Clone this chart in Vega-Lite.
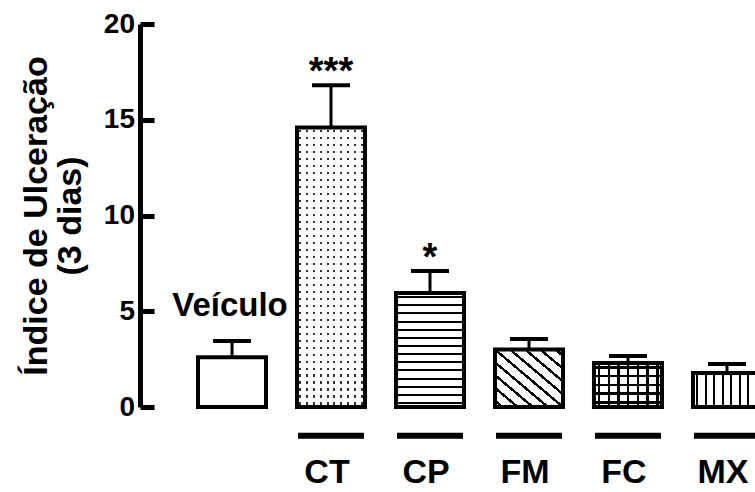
{
  "$schema": "https://vega.github.io/schema/vega-lite/v6.json",
  "autosize": {"type": "none"},
  "padding": {"left": 140, "top": 24, "right": 0, "bottom": 85},
  "width": 615,
  "height": 383,
  "background": "white",
  "config": {"view": {"stroke": null}, "font": "Liberation Sans"},
  "data": {"values": [
    {"grupo": "Veículo", "media": 2.6, "erro": 3.45, "rotulo": "", "sig": ""},
    {"grupo": "CT", "media": 14.6, "erro": 16.8, "rotulo": "CT", "sig": "***"},
    {"grupo": "CP", "media": 5.95, "erro": 7.1, "rotulo": "CP", "sig": "*"},
    {"grupo": "FM", "media": 3.0, "erro": 3.55, "rotulo": "FM", "sig": ""},
    {"grupo": "FC", "media": 2.3, "erro": 2.66, "rotulo": "FC", "sig": ""},
    {"grupo": "MX", "media": 1.78, "erro": 2.25, "rotulo": "MX", "sig": ""}
  ]},
  "encoding": {
    "x": {"field": "grupo", "type": "nominal", "sort": null, "axis": null,
          "scale": {"range": [0, 679], "paddingInner": 0.313, "paddingOuter": 0.586}}
  },
  "layer": [
    {
      "mark": {"type": "rule", "stroke": "black", "strokeWidth": 3},
      "encoding": {
        "y": {"field": "media", "type": "quantitative", "scale": {"domain": [0, 20]},
              "axis": {"values": [0, 5, 10, 15, 20], "grid": false,
                       "domainColor": "black", "domainWidth": 5,
                       "tickColor": "black", "tickWidth": 5, "tickSize": -14,
                       "labelFontSize": 28, "labelFontWeight": "bold", "labelColor": "black",
                       "labelFont": "Liberation Sans", "labelPadding": 19.5,
                       "title": ["Índice de Ulceração", "(3 dias)"],
                       "titleFont": "Liberation Sans", "titleFontSize": 34, "titleFontWeight": "bold",
                       "titleColor": "black", "titleAngle": 270, "titleX": -94, "titleY": 191.5,
                       "titleAlign": "center", "titleBaseline": "alphabetic", "titleLineHeight": 34}},
        "y2": {"field": "erro"}
      }
    },
    {
      "transform": [{"filter": "datum.grupo === 'Veículo'"}],
      "mark": {"type": "bar", "fill": "white"},
      "encoding": {"y": {"field": "media", "type": "quantitative"}}
    },
    {
      "transform": [{"filter": "datum.grupo === 'CT'"}],
      "mark": {"type": "bar", "fill": "#333"},
      "encoding": {"y": {"field": "media", "type": "quantitative"}}
    },
    {
      "transform": [{"filter": "datum.grupo === 'CT'"}],
      "mark": {"type": "bar", "fill": {"gradient": "linear", "x1": 0, "y1": 0, "x2": 0, "y2": 1, "stops": [
        {"offset": 0, "color": "#fff"},
        {"offset": 0.00875, "color": "#fff"}, {"offset": 0.00875, "color": "transparent"}, {"offset": 0.01625, "color": "transparent"}, {"offset": 0.01625, "color": "#fff"},
        {"offset": 0.03375, "color": "#fff"}, {"offset": 0.03375, "color": "transparent"}, {"offset": 0.04125, "color": "transparent"}, {"offset": 0.04125, "color": "#fff"},
        {"offset": 0.05875, "color": "#fff"}, {"offset": 0.05875, "color": "transparent"}, {"offset": 0.06625, "color": "transparent"}, {"offset": 0.06625, "color": "#fff"},
        {"offset": 0.08375, "color": "#fff"}, {"offset": 0.08375, "color": "transparent"}, {"offset": 0.09125, "color": "transparent"}, {"offset": 0.09125, "color": "#fff"},
        {"offset": 0.10875, "color": "#fff"}, {"offset": 0.10875, "color": "transparent"}, {"offset": 0.11625, "color": "transparent"}, {"offset": 0.11625, "color": "#fff"},
        {"offset": 0.13375, "color": "#fff"}, {"offset": 0.13375, "color": "transparent"}, {"offset": 0.14125, "color": "transparent"}, {"offset": 0.14125, "color": "#fff"},
        {"offset": 0.15875, "color": "#fff"}, {"offset": 0.15875, "color": "transparent"}, {"offset": 0.16625, "color": "transparent"}, {"offset": 0.16625, "color": "#fff"},
        {"offset": 0.18375, "color": "#fff"}, {"offset": 0.18375, "color": "transparent"}, {"offset": 0.19125, "color": "transparent"}, {"offset": 0.19125, "color": "#fff"},
        {"offset": 0.20875, "color": "#fff"}, {"offset": 0.20875, "color": "transparent"}, {"offset": 0.21625, "color": "transparent"}, {"offset": 0.21625, "color": "#fff"},
        {"offset": 0.23375, "color": "#fff"}, {"offset": 0.23375, "color": "transparent"}, {"offset": 0.24125, "color": "transparent"}, {"offset": 0.24125, "color": "#fff"},
        {"offset": 0.25875, "color": "#fff"}, {"offset": 0.25875, "color": "transparent"}, {"offset": 0.26625, "color": "transparent"}, {"offset": 0.26625, "color": "#fff"},
        {"offset": 0.28375, "color": "#fff"}, {"offset": 0.28375, "color": "transparent"}, {"offset": 0.29125, "color": "transparent"}, {"offset": 0.29125, "color": "#fff"},
        {"offset": 0.30875, "color": "#fff"}, {"offset": 0.30875, "color": "transparent"}, {"offset": 0.31625, "color": "transparent"}, {"offset": 0.31625, "color": "#fff"},
        {"offset": 0.33375, "color": "#fff"}, {"offset": 0.33375, "color": "transparent"}, {"offset": 0.34125, "color": "transparent"}, {"offset": 0.34125, "color": "#fff"},
        {"offset": 0.35875, "color": "#fff"}, {"offset": 0.35875, "color": "transparent"}, {"offset": 0.36625, "color": "transparent"}, {"offset": 0.36625, "color": "#fff"},
        {"offset": 0.38375, "color": "#fff"}, {"offset": 0.38375, "color": "transparent"}, {"offset": 0.39125, "color": "transparent"}, {"offset": 0.39125, "color": "#fff"},
        {"offset": 0.40875, "color": "#fff"}, {"offset": 0.40875, "color": "transparent"}, {"offset": 0.41625, "color": "transparent"}, {"offset": 0.41625, "color": "#fff"},
        {"offset": 0.43375, "color": "#fff"}, {"offset": 0.43375, "color": "transparent"}, {"offset": 0.44125, "color": "transparent"}, {"offset": 0.44125, "color": "#fff"},
        {"offset": 0.45875, "color": "#fff"}, {"offset": 0.45875, "color": "transparent"}, {"offset": 0.46625, "color": "transparent"}, {"offset": 0.46625, "color": "#fff"},
        {"offset": 0.48375, "color": "#fff"}, {"offset": 0.48375, "color": "transparent"}, {"offset": 0.49125, "color": "transparent"}, {"offset": 0.49125, "color": "#fff"},
        {"offset": 0.50875, "color": "#fff"}, {"offset": 0.50875, "color": "transparent"}, {"offset": 0.51625, "color": "transparent"}, {"offset": 0.51625, "color": "#fff"},
        {"offset": 0.53375, "color": "#fff"}, {"offset": 0.53375, "color": "transparent"}, {"offset": 0.54125, "color": "transparent"}, {"offset": 0.54125, "color": "#fff"},
        {"offset": 0.55875, "color": "#fff"}, {"offset": 0.55875, "color": "transparent"}, {"offset": 0.56625, "color": "transparent"}, {"offset": 0.56625, "color": "#fff"},
        {"offset": 0.58375, "color": "#fff"}, {"offset": 0.58375, "color": "transparent"}, {"offset": 0.59125, "color": "transparent"}, {"offset": 0.59125, "color": "#fff"},
        {"offset": 0.60875, "color": "#fff"}, {"offset": 0.60875, "color": "transparent"}, {"offset": 0.61625, "color": "transparent"}, {"offset": 0.61625, "color": "#fff"},
        {"offset": 0.63375, "color": "#fff"}, {"offset": 0.63375, "color": "transparent"}, {"offset": 0.64125, "color": "transparent"}, {"offset": 0.64125, "color": "#fff"},
        {"offset": 0.65875, "color": "#fff"}, {"offset": 0.65875, "color": "transparent"}, {"offset": 0.66625, "color": "transparent"}, {"offset": 0.66625, "color": "#fff"},
        {"offset": 0.68375, "color": "#fff"}, {"offset": 0.68375, "color": "transparent"}, {"offset": 0.69125, "color": "transparent"}, {"offset": 0.69125, "color": "#fff"},
        {"offset": 0.70875, "color": "#fff"}, {"offset": 0.70875, "color": "transparent"}, {"offset": 0.71625, "color": "transparent"}, {"offset": 0.71625, "color": "#fff"},
        {"offset": 0.73375, "color": "#fff"}, {"offset": 0.73375, "color": "transparent"}, {"offset": 0.74125, "color": "transparent"}, {"offset": 0.74125, "color": "#fff"},
        {"offset": 0.75875, "color": "#fff"}, {"offset": 0.75875, "color": "transparent"}, {"offset": 0.76625, "color": "transparent"}, {"offset": 0.76625, "color": "#fff"},
        {"offset": 0.78375, "color": "#fff"}, {"offset": 0.78375, "color": "transparent"}, {"offset": 0.79125, "color": "transparent"}, {"offset": 0.79125, "color": "#fff"},
        {"offset": 0.80875, "color": "#fff"}, {"offset": 0.80875, "color": "transparent"}, {"offset": 0.81625, "color": "transparent"}, {"offset": 0.81625, "color": "#fff"},
        {"offset": 0.83375, "color": "#fff"}, {"offset": 0.83375, "color": "transparent"}, {"offset": 0.84125, "color": "transparent"}, {"offset": 0.84125, "color": "#fff"},
        {"offset": 0.85875, "color": "#fff"}, {"offset": 0.85875, "color": "transparent"}, {"offset": 0.86625, "color": "transparent"}, {"offset": 0.86625, "color": "#fff"},
        {"offset": 0.88375, "color": "#fff"}, {"offset": 0.88375, "color": "transparent"}, {"offset": 0.89125, "color": "transparent"}, {"offset": 0.89125, "color": "#fff"},
        {"offset": 0.90875, "color": "#fff"}, {"offset": 0.90875, "color": "transparent"}, {"offset": 0.91625, "color": "transparent"}, {"offset": 0.91625, "color": "#fff"},
        {"offset": 0.93375, "color": "#fff"}, {"offset": 0.93375, "color": "transparent"}, {"offset": 0.94125, "color": "transparent"}, {"offset": 0.94125, "color": "#fff"},
        {"offset": 0.95875, "color": "#fff"}, {"offset": 0.95875, "color": "transparent"}, {"offset": 0.96625, "color": "transparent"}, {"offset": 0.96625, "color": "#fff"},
        {"offset": 0.98375, "color": "#fff"}, {"offset": 0.98375, "color": "transparent"}, {"offset": 0.99125, "color": "transparent"}, {"offset": 0.99125, "color": "#fff"},
        {"offset": 1, "color": "#fff"}
      ]}},
      "encoding": {"y": {"field": "media", "type": "quantitative"}}
    },
    {
      "transform": [{"filter": "datum.grupo === 'CT'"}],
      "mark": {"type": "bar", "fill": {"gradient": "linear", "x1": 0, "y1": 0, "x2": 1, "y2": 0, "stops": [
        {"offset": 0, "color": "#fff"},
        {"offset": 0.035, "color": "#fff"}, {"offset": 0.035, "color": "transparent"}, {"offset": 0.065, "color": "transparent"}, {"offset": 0.065, "color": "#fff"},
        {"offset": 0.135, "color": "#fff"}, {"offset": 0.135, "color": "transparent"}, {"offset": 0.165, "color": "transparent"}, {"offset": 0.165, "color": "#fff"},
        {"offset": 0.235, "color": "#fff"}, {"offset": 0.235, "color": "transparent"}, {"offset": 0.265, "color": "transparent"}, {"offset": 0.265, "color": "#fff"},
        {"offset": 0.335, "color": "#fff"}, {"offset": 0.335, "color": "transparent"}, {"offset": 0.365, "color": "transparent"}, {"offset": 0.365, "color": "#fff"},
        {"offset": 0.435, "color": "#fff"}, {"offset": 0.435, "color": "transparent"}, {"offset": 0.465, "color": "transparent"}, {"offset": 0.465, "color": "#fff"},
        {"offset": 0.535, "color": "#fff"}, {"offset": 0.535, "color": "transparent"}, {"offset": 0.565, "color": "transparent"}, {"offset": 0.565, "color": "#fff"},
        {"offset": 0.635, "color": "#fff"}, {"offset": 0.635, "color": "transparent"}, {"offset": 0.665, "color": "transparent"}, {"offset": 0.665, "color": "#fff"},
        {"offset": 0.735, "color": "#fff"}, {"offset": 0.735, "color": "transparent"}, {"offset": 0.765, "color": "transparent"}, {"offset": 0.765, "color": "#fff"},
        {"offset": 0.835, "color": "#fff"}, {"offset": 0.835, "color": "transparent"}, {"offset": 0.865, "color": "transparent"}, {"offset": 0.865, "color": "#fff"},
        {"offset": 0.935, "color": "#fff"}, {"offset": 0.935, "color": "transparent"}, {"offset": 0.965, "color": "transparent"}, {"offset": 0.965, "color": "#fff"},
        {"offset": 1, "color": "#fff"}
      ]}},
      "encoding": {"y": {"field": "media", "type": "quantitative"}}
    },
    {
      "transform": [{"filter": "datum.grupo === 'CP'"}],
      "mark": {"type": "bar", "fill": {"gradient": "linear", "x1": 0, "y1": 0, "x2": 0, "y2": 1, "stops": [
        {"offset": 0, "color": "#fff"},
        {"offset": 0.0268, "color": "#fff"}, {"offset": 0.0268, "color": "#000"}, {"offset": 0.0446, "color": "#000"}, {"offset": 0.0446, "color": "#fff"},
        {"offset": 0.0982, "color": "#fff"}, {"offset": 0.0982, "color": "#000"}, {"offset": 0.1161, "color": "#000"}, {"offset": 0.1161, "color": "#fff"},
        {"offset": 0.1696, "color": "#fff"}, {"offset": 0.1696, "color": "#000"}, {"offset": 0.1875, "color": "#000"}, {"offset": 0.1875, "color": "#fff"},
        {"offset": 0.2411, "color": "#fff"}, {"offset": 0.2411, "color": "#000"}, {"offset": 0.2589, "color": "#000"}, {"offset": 0.2589, "color": "#fff"},
        {"offset": 0.3125, "color": "#fff"}, {"offset": 0.3125, "color": "#000"}, {"offset": 0.3304, "color": "#000"}, {"offset": 0.3304, "color": "#fff"},
        {"offset": 0.3839, "color": "#fff"}, {"offset": 0.3839, "color": "#000"}, {"offset": 0.4018, "color": "#000"}, {"offset": 0.4018, "color": "#fff"},
        {"offset": 0.4554, "color": "#fff"}, {"offset": 0.4554, "color": "#000"}, {"offset": 0.4732, "color": "#000"}, {"offset": 0.4732, "color": "#fff"},
        {"offset": 0.5268, "color": "#fff"}, {"offset": 0.5268, "color": "#000"}, {"offset": 0.5446, "color": "#000"}, {"offset": 0.5446, "color": "#fff"},
        {"offset": 0.5982, "color": "#fff"}, {"offset": 0.5982, "color": "#000"}, {"offset": 0.6161, "color": "#000"}, {"offset": 0.6161, "color": "#fff"},
        {"offset": 0.6696, "color": "#fff"}, {"offset": 0.6696, "color": "#000"}, {"offset": 0.6875, "color": "#000"}, {"offset": 0.6875, "color": "#fff"},
        {"offset": 0.7411, "color": "#fff"}, {"offset": 0.7411, "color": "#000"}, {"offset": 0.7589, "color": "#000"}, {"offset": 0.7589, "color": "#fff"},
        {"offset": 0.8125, "color": "#fff"}, {"offset": 0.8125, "color": "#000"}, {"offset": 0.8304, "color": "#000"}, {"offset": 0.8304, "color": "#fff"},
        {"offset": 0.8839, "color": "#fff"}, {"offset": 0.8839, "color": "#000"}, {"offset": 0.9018, "color": "#000"}, {"offset": 0.9018, "color": "#fff"},
        {"offset": 0.9554, "color": "#fff"}, {"offset": 0.9554, "color": "#000"}, {"offset": 0.9732, "color": "#000"}, {"offset": 0.9732, "color": "#fff"},
        {"offset": 1, "color": "#fff"}
      ]}},
      "encoding": {"y": {"field": "media", "type": "quantitative"}}
    },
    {
      "transform": [{"filter": "datum.grupo === 'FM'"}],
      "mark": {"type": "bar", "fill": {"gradient": "linear", "x1": 0, "y1": 1, "x2": 1, "y2": 0, "stops": [
        {"offset": 0, "color": "#fff"},
        {"offset": 0.0417, "color": "#fff"}, {"offset": 0.0417, "color": "#000"}, {"offset": 0.0694, "color": "#000"}, {"offset": 0.0694, "color": "#fff"},
        {"offset": 0.1528, "color": "#fff"}, {"offset": 0.1528, "color": "#000"}, {"offset": 0.1806, "color": "#000"}, {"offset": 0.1806, "color": "#fff"},
        {"offset": 0.2639, "color": "#fff"}, {"offset": 0.2639, "color": "#000"}, {"offset": 0.2917, "color": "#000"}, {"offset": 0.2917, "color": "#fff"},
        {"offset": 0.3750, "color": "#fff"}, {"offset": 0.3750, "color": "#000"}, {"offset": 0.4028, "color": "#000"}, {"offset": 0.4028, "color": "#fff"},
        {"offset": 0.4861, "color": "#fff"}, {"offset": 0.4861, "color": "#000"}, {"offset": 0.5139, "color": "#000"}, {"offset": 0.5139, "color": "#fff"},
        {"offset": 0.5972, "color": "#fff"}, {"offset": 0.5972, "color": "#000"}, {"offset": 0.6250, "color": "#000"}, {"offset": 0.6250, "color": "#fff"},
        {"offset": 0.7083, "color": "#fff"}, {"offset": 0.7083, "color": "#000"}, {"offset": 0.7361, "color": "#000"}, {"offset": 0.7361, "color": "#fff"},
        {"offset": 0.8194, "color": "#fff"}, {"offset": 0.8194, "color": "#000"}, {"offset": 0.8472, "color": "#000"}, {"offset": 0.8472, "color": "#fff"},
        {"offset": 0.9306, "color": "#fff"}, {"offset": 0.9306, "color": "#000"}, {"offset": 0.9583, "color": "#000"}, {"offset": 0.9583, "color": "#fff"},
        {"offset": 1, "color": "#fff"}
      ]}},
      "encoding": {"y": {"field": "media", "type": "quantitative"}}
    },
    {
      "transform": [{"filter": "datum.grupo === 'FC'"}],
      "mark": {"type": "bar", "fill": {"gradient": "linear", "x1": 0, "y1": 0, "x2": 0, "y2": 1, "stops": [
        {"offset": 0, "color": "#fff"},
        {"offset": 0.07, "color": "#fff"}, {"offset": 0.07, "color": "#000"}, {"offset": 0.127, "color": "#000"}, {"offset": 0.127, "color": "#fff"},
        {"offset": 0.27, "color": "#fff"}, {"offset": 0.27, "color": "#000"}, {"offset": 0.327, "color": "#000"}, {"offset": 0.327, "color": "#fff"},
        {"offset": 0.47, "color": "#fff"}, {"offset": 0.47, "color": "#000"}, {"offset": 0.527, "color": "#000"}, {"offset": 0.527, "color": "#fff"},
        {"offset": 0.67, "color": "#fff"}, {"offset": 0.67, "color": "#000"}, {"offset": 0.727, "color": "#000"}, {"offset": 0.727, "color": "#fff"},
        {"offset": 0.87, "color": "#fff"}, {"offset": 0.87, "color": "#000"}, {"offset": 0.927, "color": "#000"}, {"offset": 0.927, "color": "#fff"},
        {"offset": 1, "color": "#fff"}
      ]}},
      "encoding": {"y": {"field": "media", "type": "quantitative"}}
    },
    {
      "transform": [{"filter": "datum.grupo === 'FC'"}],
      "mark": {"type": "bar", "fill": {"gradient": "linear", "x1": 0, "y1": 0, "x2": 1, "y2": 0, "stops": [
        {"offset": 0, "color": "transparent"},
        {"offset": 0.0571, "color": "transparent"}, {"offset": 0.0571, "color": "#000"}, {"offset": 0.0929, "color": "#000"}, {"offset": 0.0929, "color": "transparent"},
        {"offset": 0.2, "color": "transparent"}, {"offset": 0.2, "color": "#000"}, {"offset": 0.2357, "color": "#000"}, {"offset": 0.2357, "color": "transparent"},
        {"offset": 0.3429, "color": "transparent"}, {"offset": 0.3429, "color": "#000"}, {"offset": 0.3786, "color": "#000"}, {"offset": 0.3786, "color": "transparent"},
        {"offset": 0.4857, "color": "transparent"}, {"offset": 0.4857, "color": "#000"}, {"offset": 0.5214, "color": "#000"}, {"offset": 0.5214, "color": "transparent"},
        {"offset": 0.6286, "color": "transparent"}, {"offset": 0.6286, "color": "#000"}, {"offset": 0.6643, "color": "#000"}, {"offset": 0.6643, "color": "transparent"},
        {"offset": 0.7714, "color": "transparent"}, {"offset": 0.7714, "color": "#000"}, {"offset": 0.8071, "color": "#000"}, {"offset": 0.8071, "color": "transparent"},
        {"offset": 0.9143, "color": "transparent"}, {"offset": 0.9143, "color": "#000"}, {"offset": 0.95, "color": "#000"}, {"offset": 0.95, "color": "transparent"},
        {"offset": 1, "color": "transparent"}
      ]}},
      "encoding": {"y": {"field": "media", "type": "quantitative"}}
    },
    {
      "transform": [{"filter": "datum.grupo === 'MX'"}],
      "mark": {"type": "bar", "fill": {"gradient": "linear", "x1": 0, "y1": 0, "x2": 1, "y2": 0, "stops": [
        {"offset": 0, "color": "#fff"},
        {"offset": 0.047, "color": "#fff"}, {"offset": 0.047, "color": "#000"}, {"offset": 0.077, "color": "#000"}, {"offset": 0.077, "color": "#fff"},
        {"offset": 0.172, "color": "#fff"}, {"offset": 0.172, "color": "#000"}, {"offset": 0.202, "color": "#000"}, {"offset": 0.202, "color": "#fff"},
        {"offset": 0.297, "color": "#fff"}, {"offset": 0.297, "color": "#000"}, {"offset": 0.327, "color": "#000"}, {"offset": 0.327, "color": "#fff"},
        {"offset": 0.422, "color": "#fff"}, {"offset": 0.422, "color": "#000"}, {"offset": 0.452, "color": "#000"}, {"offset": 0.452, "color": "#fff"},
        {"offset": 0.547, "color": "#fff"}, {"offset": 0.547, "color": "#000"}, {"offset": 0.577, "color": "#000"}, {"offset": 0.577, "color": "#fff"},
        {"offset": 0.672, "color": "#fff"}, {"offset": 0.672, "color": "#000"}, {"offset": 0.702, "color": "#000"}, {"offset": 0.702, "color": "#fff"},
        {"offset": 0.797, "color": "#fff"}, {"offset": 0.797, "color": "#000"}, {"offset": 0.827, "color": "#000"}, {"offset": 0.827, "color": "#fff"},
        {"offset": 0.922, "color": "#fff"}, {"offset": 0.922, "color": "#000"}, {"offset": 0.952, "color": "#000"}, {"offset": 0.952, "color": "#fff"},
        {"offset": 1, "color": "#fff"}
      ]}},
      "encoding": {"y": {"field": "media", "type": "quantitative"}}
    },
    {
      "mark": {"type": "bar", "fillOpacity": 0, "stroke": "black", "strokeWidth": 4},
      "encoding": {"y": {"field": "media", "type": "quantitative"}}
    },
    {
      "mark": {"type": "tick", "color": "black", "size": 38, "thickness": 4, "opacity": 1},
      "encoding": {"y": {"field": "erro", "type": "quantitative"}}
    },
    {
      "transform": [{"filter": "datum.sig !== ''"}],
      "mark": {"type": "text", "font": "Liberation Sans", "fontWeight": "bold", "fontSize": 38, "color": "black", "baseline": "alphabetic", "dy": -1},
      "encoding": {"y": {"field": "erro", "type": "quantitative"}, "text": {"field": "sig"}}
    },
    {
      "transform": [{"filter": "datum.grupo === 'Veículo'"}],
      "mark": {"type": "text", "font": "Liberation Sans", "fontWeight": "bold", "fontSize": 33, "color": "black", "baseline": "alphabetic", "dx": -2},
      "encoding": {"y": {"datum": 4.75}, "text": {"field": "grupo"}}
    },
    {
      "transform": [{"filter": "datum.rotulo !== ''"}],
      "mark": {"type": "tick", "color": "black", "size": 66, "thickness": 6, "opacity": 1},
      "encoding": {"y": {"datum": -1.5}}
    },
    {
      "transform": [{"filter": "datum.rotulo !== ''"}],
      "mark": {"type": "text", "font": "Liberation Sans", "fontWeight": "bold", "fontSize": 34, "color": "black", "baseline": "alphabetic", "dx": -4},
      "encoding": {"y": {"datum": -3.97}, "text": {"field": "rotulo"}}
    }
  ]
}
